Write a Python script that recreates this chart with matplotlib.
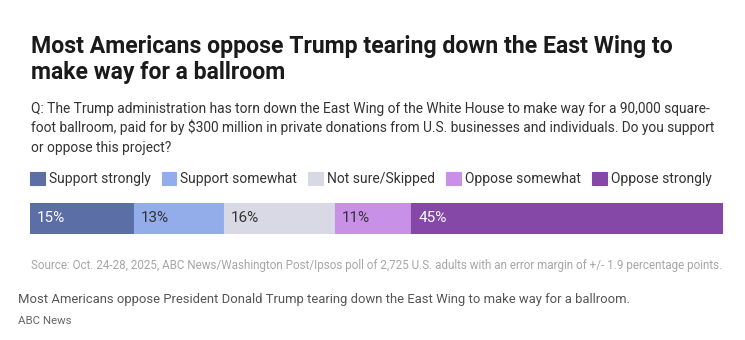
import matplotlib.pyplot as plt

plt.rcParams['font.family'] = ['Roboto', 'DejaVu Sans']

categories = ['Support strongly', 'Support somewhat', 'Not sure/Skipped', 'Oppose somewhat', 'Oppose strongly']
values = [15, 13, 16, 11, 45]
colors = ['#5b6ea6', '#92adea', '#d9d9e6', '#c990e8', '#8548a7']
label_colors = ['white', '#333333', '#333333', '#333333', 'white']

title_lines = ['Most Americans oppose Trump tearing down the East Wing to',
               'make way for a ballroom']
question_lines = ['Q: The Trump administration has torn down the East Wing of the White House to make way for a 90,000 square-',
                  'foot ballroom, paid for by $300 million in private donations from U.S. businesses and individuals. Do you support',
                  'or oppose this project?']
source = 'Source: Oct. 24-28, 2025, ABC News/Washington Post/Ipsos poll of 2,725 U.S. adults with an error margin of +/- 1.9 percentage points.'
caption = 'Most Americans oppose President Donald Trump tearing down the East Wing to make way for a ballroom.'
credit = 'ABC News'

W, H = 745, 340
fig = plt.figure(figsize=(W / 100, H / 100), dpi=100)

def px(x, y):
    return x / W, 1 - y / H

for i, line in enumerate(title_lines):
    fig.text(*px(31, 52.5 + 27 * i), line, fontsize=16.6, fontweight='bold',
             color='#1a1a1a', va='baseline', ha='left')
for i, line in enumerate(question_lines):
    fig.text(*px(31, 113 + 19.5 * i), line, fontsize=9.95, color='#333333',
             va='baseline', ha='left')

# stacked bar
ax = fig.add_axes([30 / W, 1 - 234 / H, 693 / W, 31 / H])
left = 0
handles = []
for cat, v, c, lc in zip(categories, values, colors, label_colors):
    b = ax.barh(0, v, left=left, height=1, color=c, edgecolor=c, linewidth=0.8, label=cat)
    handles.append(b)
    ax.annotate(f'{v}%', (left, 0), xytext=(5, 0), textcoords='offset points',
                va='center', ha='left', fontsize=11, color=lc)
    left += v
ax.set_xlim(0, 100)
ax.set_ylim(-0.5, 0.5)
ax.axis('off')

leg = fig.legend(handles=handles, labels=categories, ncol=5, loc='center left',
                 bbox_to_anchor=px(30, 179), frameon=False, fontsize=10.0,
                 handlelength=1.05, handleheight=1.05, handletextpad=0.3,
                 columnspacing=0.8, borderpad=0, borderaxespad=0)
for t in leg.get_texts():
    t.set_color('#333333')

fig.text(*px(31, 269), source, fontsize=8.4, color='#a6a6a6', va='baseline', ha='left')
fig.text(*px(18, 303), caption, fontsize=9.4, color='#555555', va='baseline', ha='left')
fig.text(*px(18, 324), credit, fontsize=8.2, color='#666666', va='baseline', ha='left')

fig.savefig('out.png', dpi=100, facecolor='white')
